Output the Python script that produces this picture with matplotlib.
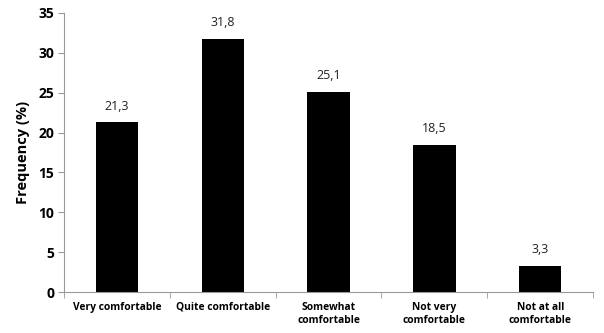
import numpy as np
from matplotlib import pyplot as plt

# comfort level categories and their frequencies (%)
categories = ["Very comfortable", "Quite comfortable", "Somewhat\ncomfortable",
              "Not very\ncomfortable", "Not at all\ncomfortable"]
values = [21.3, 31.8, 25.1, 18.5, 3.3]
value_labels = ["21,3", "31,8", "25,1", "18,5", "3,3"]
yticks = [0, 5, 10, 15, 20, 25, 30, 35]

plt.rcParams['font.family'] = ['Open Sans', 'DejaVu Sans']

fig = plt.figure(figsize=(6.04, 3.33), dpi=100)
ax = fig.add_axes([0.106, 0.123, 0.876, 0.838])

x = np.arange(len(categories))
ax.bar(x, values, width=0.4, color="black")

# value labels above each bar
for xi, v, lab in zip(x, values, value_labels):
    ax.text(xi, v + 1.2, lab, ha="center", va="bottom", fontsize=9, color="#222222")

ax.set_xlim(-0.5, len(categories) - 0.5)
ax.set_ylim(0, 35)
ax.set_yticks(yticks)
ax.set_yticklabels([str(t) for t in yticks], fontsize=10, fontweight="bold")
ax.set_xticks(x)
ax.set_xticklabels(categories, fontsize=7.4, fontweight="bold", linespacing=1.3)
ax.tick_params(axis="x", which="major", length=0, pad=7)
ax.set_xticks(np.arange(-0.5, len(categories)), minor=True)
ax.tick_params(axis="x", which="minor", length=4, color="#999999", direction="out")
ax.tick_params(axis="y", length=4, color="#999999", pad=3)
ax.set_ylabel("Frequency (%)", fontsize=10.5, fontweight="bold", labelpad=6)

for side in ["top", "right"]:
    ax.spines[side].set_visible(False)
for side in ["left", "bottom"]:
    ax.spines[side].set_color("#999999")
    ax.spines[side].set_linewidth(0.8)

fig.savefig("out.png", dpi=100)
